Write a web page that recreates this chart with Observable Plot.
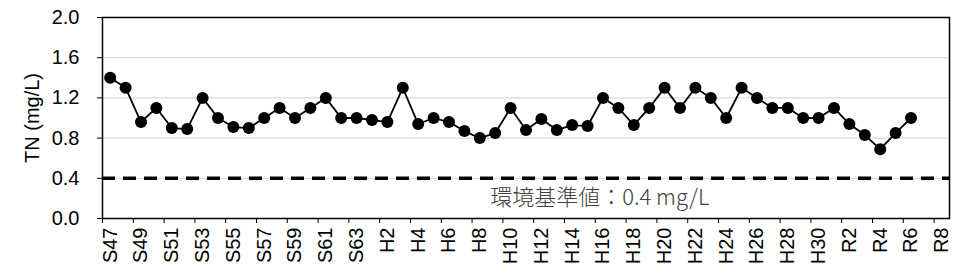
<!DOCTYPE html>
<html>
<head>
<meta charset="utf-8">
<script src="https://cdn.jsdelivr.net/npm/d3@7"></script>
<script src="https://cdn.jsdelivr.net/npm/@observablehq/plot@0.6"></script>
<style>
  html, body { margin: 0; padding: 0; background: #fff; }
  #chart svg { display: block; }
</style>
</head>
<body>
<div id="chart"></div>
<script>
const categories = [
  "S47","S48","S49","S50","S51","S52","S53","S54","S55","S56","S57","S58","S59","S60","S61","S62","S63",
  "H1","H2","H3","H4","H5","H6","H7","H8","H9","H10","H11","H12","H13","H14","H15","H16","H17","H18","H19","H20",
  "H21","H22","H23","H24","H25","H26","H27","H28","H29","H30",
  "R1","R2","R3","R4","R5","R6","R7","R8"
];
const tnValues = [
  1.40,1.30,0.96,1.10,0.90,0.89,1.20,1.00,0.91,0.90,1.00,1.10,1.00,1.10,1.20,1.00,1.00,
  0.98,0.96,1.30,0.94,1.00,0.96,0.87,0.80,0.85,1.10,0.88,0.99,0.88,0.93,0.92,1.20,1.10,0.93,1.10,1.30,
  1.10,1.30,1.20,1.00,1.30,1.20,1.10,1.10,1.00,1.00,
  1.10,0.94,0.83,0.69,0.85,1.00
];
const yTicks = [0, 0.4, 0.8, 1.2, 1.6, 2.0];
const gridTicks = [0.4, 0.8, 1.2, 1.6];
const standardValue = 0.4;
const standardLabel = "環境基準値：0.4 mg/L";
const standardLabelAt = "H9";
const yLabel = "TN (mg/L)";
const xTickLabels = categories.filter((d, i) => i % 2 === 0);

const data = tnValues.map((v, i) => ({cat: categories[i], value: v}));

const width = 957, height = 277;
const marginLeft = 102, marginRight = 8, marginTop = 17, marginBottom = 59;
const bandwidth = (width - marginLeft - marginRight) / categories.length;

const font = "'Liberation Sans', Arial, sans-serif";

const plot = Plot.plot({
  width, height, marginLeft, marginRight, marginTop, marginBottom,
  style: {fontFamily: font, fontSize: "20px", color: "#000", background: "#fff"},
  x: {type: "band", domain: categories, padding: 0, round: false},
  y: {domain: [0, 2]},
  marks: [
    Plot.gridY(gridTicks, {stroke: "#d0d0d0", strokeOpacity: 1, strokeWidth: 1}),
    Plot.ruleY([standardValue], {stroke: "#000", strokeWidth: 3.5, strokeDasharray: "13,8"}),
    Plot.text([standardLabel], {
      x: () => standardLabelAt, y: () => 0.2, text: d => d, textAnchor: "start", dx: -5,
      fontFamily: "'Noto Sans CJK JP', sans-serif", fontSize: 22, fontWeight: 300, fill: "#404040"
    }),
    Plot.axisY(yTicks, {
      tickSize: 5, tickPadding: 18, tickFormat: d3.format(".1f"),
      label: yLabel, labelAnchor: "center", labelOffset: 78, labelArrow: "none",
      fontSize: 20, fontFamily: font, fill: "#000"
    }),
    Plot.axisX(xTickLabels, {
      tickSize: 5, tickFormat: () => "", dx: -bandwidth / 2, label: null
    }),
    Plot.axisX(xTickLabels, {
      tickSize: 0, tickPadding: 9, tickRotate: -90, label: null, fontSize: 20, fontFamily: font, fill: "#000"
    }),
    Plot.line(data, {x: "cat", y: "value", stroke: "#000", strokeWidth: 1.8}),
    Plot.dot(data, {x: "cat", y: "value", r: 6, fill: "#000", stroke: "none"}),
    Plot.frame({stroke: "#000", strokeWidth: 1.5})
  ]
});
document.getElementById("chart").appendChild(plot);
</script>
</body>
</html>
